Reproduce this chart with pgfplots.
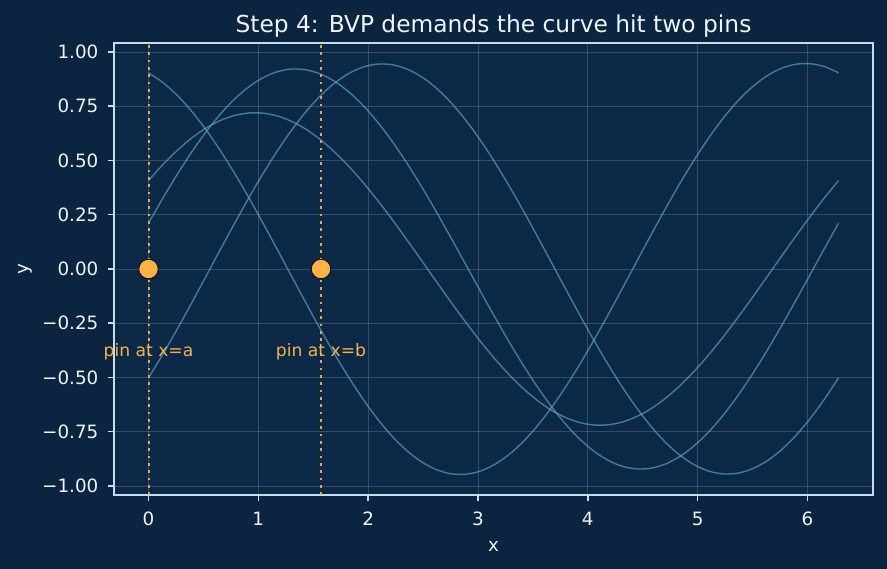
\documentclass[border=0pt]{standalone}
\usepackage{pgfplots}
\usepackage{pgfplotstable}
\pgfplotsset{compat=1.18}
\usepackage{fontspec}
\setmainfont{DejaVu Sans}
\definecolor{figbg}{HTML}{0B2540}
\definecolor{axbg}{HTML}{0B2947}
\definecolor{spine}{HTML}{C8DCEB}
\definecolor{txt}{HTML}{EEF3F8}
\definecolor{curvec}{HTML}{6BAED6}
\definecolor{pinc}{HTML}{FFB347}
\definecolor{pintxt}{HTML}{F2B14C}
\pgfplotstableread{
x c1 c2 c3 c4
0 0.9039 0.4070 0.2110 -0.5014
0.1309 0.8593 0.4810 0.3264 -0.3925
0.2618 0.8000 0.5468 0.4361 -0.2770
0.3927 0.7270 0.6033 0.5384 -0.1566
0.5236 0.6415 0.6495 0.6315 -0.0336
0.6545 0.5451 0.6844 0.7138 0.0899
0.7854 0.4393 0.7077 0.7839 0.2119
0.9163 0.3261 0.7190 0.8405 0.3304
1.0472 0.2073 0.7178 0.8828 0.4431
1.1781 0.0848 0.7045 0.9100 0.5482
1.3090 -0.0391 0.6789 0.9216 0.6440
1.4399 -0.1622 0.6419 0.9174 0.7288
1.5708 -0.2826 0.5939 0.8976 0.8011
1.7017 -0.3982 0.5357 0.8624 0.8596
1.8326 -0.5069 0.4683 0.8124 0.9036
1.9635 -0.6070 0.3929 0.7486 0.9320
2.0944 -0.6967 0.3108 0.6718 0.9445
2.2253 -0.7745 0.2234 0.5837 0.9408
2.3562 -0.8390 0.1322 0.4855 0.9210
2.4871 -0.8891 0.0386 0.3790 0.8855
2.6180 -0.9241 -0.0555 0.2661 0.8348
2.7489 -0.9432 -0.1487 0.1486 0.7698
2.8798 -0.9462 -0.2394 0.0285 0.6916
3.0107 -0.9331 -0.3260 -0.0920 0.6017
3.1416 -0.9039 -0.4070 -0.2110 0.5014
3.2725 -0.8593 -0.4810 -0.3264 0.3925
3.4034 -0.8000 -0.5468 -0.4361 0.2770
3.5343 -0.7270 -0.6033 -0.5384 0.1566
3.6652 -0.6415 -0.6495 -0.6315 0.0336
3.7961 -0.5451 -0.6844 -0.7138 -0.0899
3.9270 -0.4393 -0.7077 -0.7839 -0.2119
4.0579 -0.3261 -0.7190 -0.8405 -0.3304
4.1888 -0.2073 -0.7178 -0.8828 -0.4431
4.3197 -0.0848 -0.7045 -0.9100 -0.5482
4.4506 0.0391 -0.6789 -0.9216 -0.6440
4.5815 0.1622 -0.6419 -0.9174 -0.7288
4.7124 0.2826 -0.5939 -0.8976 -0.8011
4.8433 0.3982 -0.5357 -0.8624 -0.8596
4.9742 0.5069 -0.4683 -0.8124 -0.9036
5.1051 0.6070 -0.3929 -0.7486 -0.9320
5.2360 0.6967 -0.3108 -0.6718 -0.9445
5.3669 0.7745 -0.2234 -0.5837 -0.9408
5.4978 0.8390 -0.1322 -0.4855 -0.9210
5.6287 0.8891 -0.0386 -0.3790 -0.8855
5.7596 0.9241 0.0555 -0.2661 -0.8348
5.8905 0.9432 0.1487 -0.1486 -0.7698
6.0214 0.9462 0.2394 -0.0285 -0.6916
6.1523 0.9331 0.3260 0.0920 -0.6017
6.2832 0.9039 0.4070 0.2110 -0.5014
}\curves
\begin{document}
\begin{tikzpicture}
\fill[figbg] (0,0) rectangle (532.2pt,341.4pt);
\begin{axis}[
 name=ax, at={(68.4pt,44.4pt)}, anchor=south west,
 scale only axis, width=455.4pt, height=271.2pt,
 xmin=-0.3142, xmax=6.5973, ymin=-1.0415, ymax=1.0415,
 clip mode=individual,
 axis background/.style={fill=axbg},
 axis line style={draw=spine, line width=0.9pt},
 tick pos=left, tick align=outside, major tick length=3.8pt,
 every tick/.style={draw=spine, line width=0.9pt},
 xtick={0,1,2,3,4,5,6}, xticklabels={0,1,2,3,4,5,6},
 ytick={-1,-0.75,-0.5,-0.25,0,0.25,0.5,0.75,1},
 yticklabels={−1.00,−0.75,−0.50,−0.25,0.00,0.25,0.50,0.75,1.00},
 tick label style={font=\fontsize{11}{13}\selectfont, text=txt, inner sep=0pt},
 xticklabel style={anchor=base, yshift=-14.6pt},
 yticklabel style={anchor=east, xshift=-5.4pt},
 grid=major, major grid style={draw=white, opacity=0.17, line width=0.5pt},
]
% dotted pin lines
\addplot[draw=pinc, draw opacity=0.9, line width=1.2pt, dash pattern=on 1.6pt off 2.8pt, no marks] coordinates {(0,-1.0415) (0,1.0415)};
\addplot[draw=pinc, draw opacity=0.9, line width=1.2pt, dash pattern=on 1.6pt off 2.8pt, no marks] coordinates {(1.5708,-1.0415) (1.5708,1.0415)};
% candidate curves
\addplot[smooth, draw=curvec, draw opacity=0.6, line width=0.85pt, no marks] table[x=x, y=c1] {\curves};
\addplot[smooth, draw=curvec, draw opacity=0.6, line width=0.85pt, no marks] table[x=x, y=c2] {\curves};
\addplot[smooth, draw=curvec, draw opacity=0.6, line width=0.85pt, no marks] table[x=x, y=c3] {\curves};
\addplot[smooth, draw=curvec, draw opacity=0.6, line width=0.85pt, no marks] table[x=x, y=c4] {\curves};
% pins
\addplot[only marks, mark=*, mark size=5.8pt, mark options={fill=pinc, draw=none}] coordinates {(0,0) (1.5708,0)};
\node[anchor=base, text=pintxt, font=\fontsize{10.3}{12}\selectfont, inner sep=0pt] at (axis cs:0,-0.405) {pin at x=a};
\node[anchor=base, text=pintxt, font=\fontsize{10.3}{12}\selectfont, inner sep=0pt] at (axis cs:1.5708,-0.405) {pin at x=b};
\end{axis}
\node[anchor=base, text=txt, font=\fontsize{14}{16}\selectfont, inner sep=0pt] at ([yshift=6.4pt]ax.north) {Step 4: BVP demands the curve hit two pins};
\node[anchor=base, text=txt, font=\fontsize{11}{13}\selectfont, inner sep=0pt] at ([yshift=-34pt]ax.south) {x};
\node[anchor=base, rotate=90, text=txt, font=\fontsize{11}{13}\selectfont, inner sep=0pt] at ([xshift=-51.6pt]ax.west) {y};
\end{tikzpicture}
\end{document}
